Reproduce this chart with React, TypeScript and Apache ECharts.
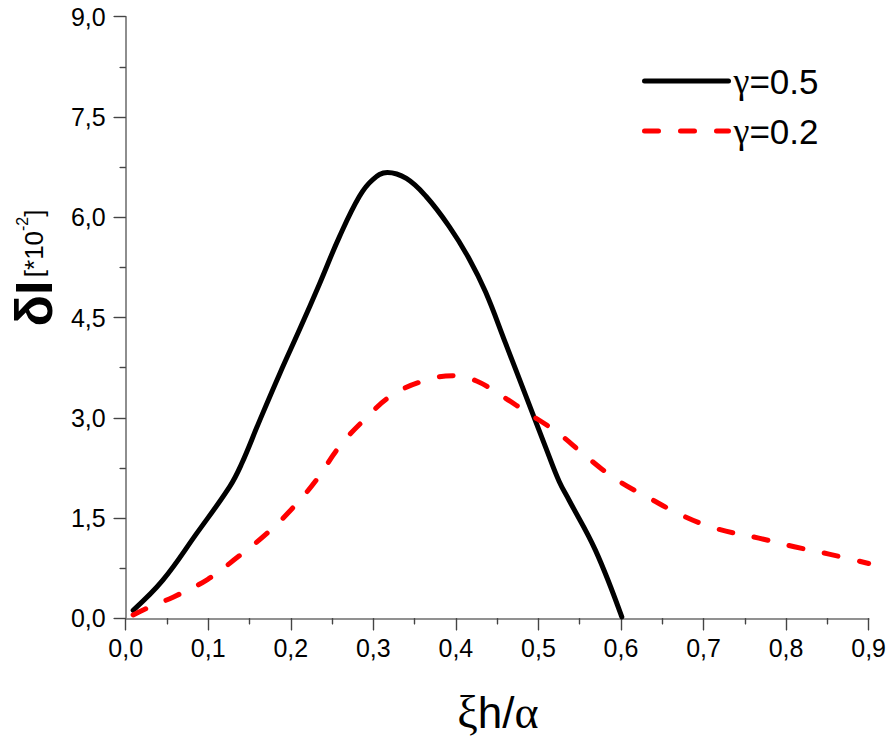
import React, { useEffect, useRef } from "react";
import * as echarts from "echarts";

const seriesNames = ["γ=0.5", "γ=0.2"];
const gamma05: [number, number][] = [
  [0.009, 0.12], [0.045, 0.57], [0.086, 1.27], [0.126, 1.97], [0.14, 2.3],
  [0.162, 2.95], [0.187, 3.67], [0.211, 4.33], [0.235, 5.01], [0.259, 5.71],
  [0.283, 6.31], [0.299, 6.56], [0.317, 6.67], [0.34, 6.58], [0.364, 6.31],
  [0.392, 5.86], [0.416, 5.38], [0.436, 4.88], [0.46, 4.12], [0.485, 3.32],
  [0.509, 2.55], [0.525, 2.05], [0.537, 1.77], [0.569, 1.02],
  [0.601, 0.02],
];
const gamma02: [number, number][] = [
  [0.009, 0.05], [0.029, 0.17], [0.058, 0.32], [0.099, 0.58], [0.136, 0.92],
  [0.171, 1.27], [0.203, 1.66], [0.231, 2.07], [0.259, 2.57], [0.289, 2.97],
  [0.323, 3.34], [0.366, 3.57], [0.4, 3.63], [0.425, 3.55], [0.449, 3.38],
  [0.485, 3.09], [0.524, 2.77], [0.556, 2.44], [0.594, 2.08], [0.634, 1.8],
  [0.674, 1.54], [0.716, 1.34], [0.767, 1.2], [0.81, 1.07], [0.852, 0.96],
  [0.9, 0.82],
];

const X_MIN = 0, X_MAX = 0.9, X_STEP = 0.1;
const Y_MIN = 0, Y_MAX = 9, Y_STEP = 1.5;

const FONT = "'Liberation Sans', Arial, sans-serif";
const SERIF = "'Liberation Serif', 'DejaVu Serif', serif";
const comma = (v: number) => v.toFixed(1).replace(".", ",");

export default function App() {
  const ref = useRef<HTMLDivElement>(null);
  useEffect(() => {
    if (!ref.current) return;
    const chart = echarts.init(ref.current, null, { renderer: "svg" });
    const axisLine = { show: true, lineStyle: { color: "#8a8a8a", width: 1.6 } };
    const tickStyle = { color: "#444", width: 1.2 };
    chart.setOption({
      animation: false,
      backgroundColor: "#fff",
      grid: { left: 125.7, right: 17.5, top: 16.7, bottom: 124.7, containLabel: false },
      legend: {
        orient: "vertical",
        left: 637,
        top: 58,
        itemWidth: 84,
        itemHeight: 36,
        itemGap: 14,
        data: seriesNames,
        itemStyle: { opacity: 0 },
        lineStyle: { width: 5, cap: "round" },
        formatter: (n: string) => `{g|γ}{t|${n.slice(1)}}`,
        textStyle: {
          color: "#000",
          rich: {
            g: { fontFamily: SERIF, fontSize: 36, color: "#000" },
            t: { fontFamily: FONT, fontSize: 35, color: "#000" },
          },
        },
      },
      xAxis: [
        {
          type: "value", min: X_MIN, max: X_MAX, interval: X_STEP, position: "bottom",
          axisLine, splitLine: { show: false },
          axisTick: { show: true, inside: false, length: 12, lineStyle: tickStyle },
          minorTick: { show: true, splitNumber: 2, length: 6, lineStyle: tickStyle },
          axisLabel: { formatter: comma, fontFamily: FONT, fontSize: 25, color: "#000", margin: 17 },
        },
        {
          type: "value", min: X_MIN, max: X_MAX, interval: X_STEP, position: "top",
          axisLine, splitLine: { show: false },
          axisTick: { show: true, inside: true, length: 12, lineStyle: tickStyle },
          minorTick: { show: true, splitNumber: 2, length: 6, lineStyle: tickStyle },
          axisLabel: { show: false },
        },
      ],
      yAxis: [
        {
          type: "value", min: Y_MIN, max: Y_MAX, interval: Y_STEP, position: "left",
          axisLine, splitLine: { show: false },
          axisTick: { show: true, inside: false, length: 12, lineStyle: tickStyle },
          minorTick: { show: true, splitNumber: 2, length: 6, lineStyle: tickStyle },
          axisLabel: { formatter: comma, fontFamily: FONT, fontSize: 25, color: "#000", margin: 20 },
        },
        {
          type: "value", min: Y_MIN, max: Y_MAX, interval: Y_STEP, position: "right",
          axisLine, splitLine: { show: false },
          axisTick: { show: true, inside: true, length: 12, lineStyle: tickStyle },
          minorTick: { show: true, splitNumber: 2, length: 6, lineStyle: tickStyle },
          axisLabel: { show: false },
        },
      ],
      series: [
        {
          name: seriesNames[0], type: "line", data: gamma05, xAxisIndex: 0, yAxisIndex: 0,
          symbol: "none", smooth: 0.4,
          lineStyle: { color: "#000", width: 5, cap: "round", join: "round" },
          itemStyle: { color: "#000" },
        },
        {
          name: seriesNames[1], type: "line", data: gamma02, xAxisIndex: 0, yAxisIndex: 0,
          symbol: "none", smooth: 0.4,
          lineStyle: { color: "#ff0000", width: 5, type: [14, 22], cap: "round", join: "round" },
          itemStyle: { color: "#ff0000" },
        },
      ],
      graphic: [
        {
          type: "text", x: 34, y: 268, rotation: Math.PI / 2,
          style: {
            text: "{a|δI} {b|[*10}{c|-2}{b|]}",
            align: "center", verticalAlign: "middle",
            rich: {
              a: { fontFamily: FONT, fontWeight: "bold", fontSize: 52, fill: "#000" },
              b: { fontFamily: FONT, fontSize: 26, fill: "#000" },
              c: { fontFamily: FONT, fontSize: 16, fill: "#000", verticalAlign: "top", padding: [6, 0, 0, 0] },
            },
          },
        },
        {
          type: "text", x: 498, y: 712,
          style: {
            text: "{g|ξ}{s|h/}{g|α}",
            align: "center", verticalAlign: "middle",
            rich: {
              g: { fontFamily: SERIF, fontSize: 46, fill: "#000", lineHeight: 46 },
              s: { fontFamily: FONT, fontSize: 44, fill: "#000", lineHeight: 46 },
            },
          },
        },
      ],
    });
    return () => chart.dispose();
  }, []);
  return (
    <div
      ref={ref}
      style={{ position: "fixed", left: 0, top: 0, width: 889, height: 743, background: "#fff" }}
    />
  );
}
